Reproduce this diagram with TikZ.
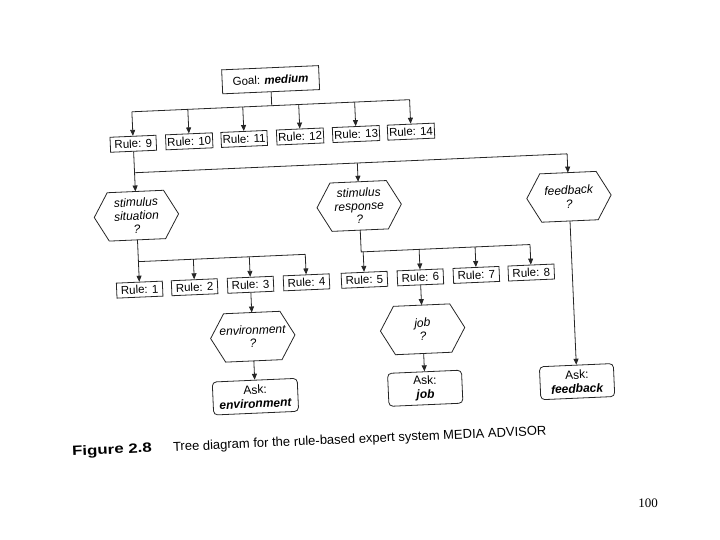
\documentclass[tikz,border=0pt]{standalone}
\usepackage{fontspec}
\setmainfont{Liberation Sans}
\newfontfamily\pagefont{Liberation Serif}
\usepackage{graphicx}
\usetikzlibrary{arrows.meta,calc}
\tikzset{
 ln/.style={draw=black!85, line width=0.8pt},
 arr/.style={ln, -{Triangle[length=6pt,width=5pt]}},
 rulebox/.style={ln, minimum width=46pt, minimum height=15pt, inner xsep=1.5pt, inner ysep=1pt, font=\fontsize{11.5}{12}\selectfont},
 goalbox/.style={ln, minimum width=97pt, minimum height=24pt, font=\fontsize{11.5}{12}\selectfont},
 hexbox/.style={minimum width=84pt, minimum height=48pt, inner sep=0pt, align=center, font=\fontsize{12}{13.5}\selectfont\itshape},
 askbox/.style={ln, rounded corners=4pt, minimum width=74pt, minimum height=33pt, align=center, inner sep=2pt, font=\fontsize{12}{14}\selectfont},
 captxt/.style={anchor=base west, font=\fontsize{13}{15}\selectfont},
}
\begin{document}
\begin{tikzpicture}[x=1pt,y=-1pt]
\useasboundingbox (0,0) rectangle (720,540);
\begin{scope}[rotate around={2.5:(360,270)}, transform shape]
\node[goalbox] (goal) at (279,76) {Goal: \textbf{\textit{medium}}};
\node[rulebox] (r9) at (139,134) {Rule: 9};
\node[rulebox] (r10) at (195,134) {Rule: 10};
\node[rulebox] (r11) at (250,134) {Rule: 11};
\node[rulebox] (r12) at (306,134) {Rule: 12};
\node[rulebox] (r13) at (362,134) {Rule: 13};
\node[rulebox] (r14) at (417,134) {Rule: 14};
\node[hexbox] (ss) at (139,206) {stimulus\\situation\\?};
\node[hexbox] (sr) at (362,206) {stimulus\\response\\?};
\node[hexbox] (fb) at (572,206) {feedback\\?};
\node[rulebox] (r1) at (139,280) {Rule: 1};
\node[rulebox] (r2) at (194,280) {Rule: 2};
\node[rulebox] (r3) at (250,280) {Rule: 3};
\node[rulebox] (r4) at (306,280) {Rule: 4};
\node[rulebox] (r5) at (364,280) {Rule: 5};
\node[rulebox] (r6) at (420,280) {Rule: 6};
\node[rulebox] (r7) at (476,280) {Rule: 7};
\node[rulebox] (r8) at (531,280) {Rule: 8};
\node[hexbox] (env) at (250,332) {environment\\?};
\node[hexbox] (job) at (420,332) {job\\?};
\node[askbox, minimum width=85pt] (aenv) at (250,392) {Ask:\\\textbf{\textit{environment}}};
\node[askbox] (ajob) at (420,391) {Ask:\\\textbf{\textit{job}}};
\node[askbox] (afb) at (572,391) {Ask:\\\textbf{\textit{feedback}}};
\foreach \n in {ss,sr,fb,env,job}
  \draw[ln, line join=miter] (\n.west) -- ($(\n.north west)!14pt!(\n.north east)$) -- ($(\n.north east)!14pt!(\n.north west)$) -- (\n.east) -- ($(\n.south east)!14pt!(\n.south west)$) -- ($(\n.south west)!14pt!(\n.south east)$) -- cycle;
\coordinate (h1) at (0,102);
\coordinate (h2) at (0,163);
\coordinate (h3) at (0,252);
\draw[ln] (goal.south) -- (goal.south |- h1);
\draw[ln] (r9.north |- h1) -- (r14.north |- h1);
\foreach \r in {r9,r10,r11,r12,r13,r14} \draw[arr] (\r.north |- h1) -- (\r.north);
\draw[ln] (r9.south) -- (r9.south |- h2) -- (fb.north |- h2);
\foreach \r in {ss,sr,fb} \draw[arr] (\r.north |- h2) -- (\r.north);
\draw[ln] (ss.south) -- (ss.south |- h3) -- (r4.north |- h3);
\foreach \r in {r1,r2,r3,r4} \draw[arr] (\r.north |- h3) -- (\r.north);
\draw[ln] (sr.south) -- (sr.south |- h3) -- (r8.north |- h3);
\foreach \r in {r5,r6,r7,r8} \draw[arr] (\r.north |- h3) -- (\r.north);
\draw[arr] (r3.south) -- (env.north);
\draw[arr] (r6.south) -- (job.north);
\draw[arr] (env.south) -- (aenv.north);
\draw[arr] (job.south) -- (ajob.north);
\draw[arr] (fb.south) -- (afb.north);
\node[captxt, font=\fontsize{13.5}{15}\selectfont\bfseries] (figlabel) at (61,443) {\scalebox{1.25}[1]{Figure 2.8}};
\node[captxt] (figtitle) at (162,443) {Tree diagram for the rule-based expert system MEDIA ADVISOR};
\end{scope}
\node[font=\pagefont\fontsize{13}{15}\selectfont] (pg) at (648,503.5) {100};
\end{tikzpicture}
\end{document}
